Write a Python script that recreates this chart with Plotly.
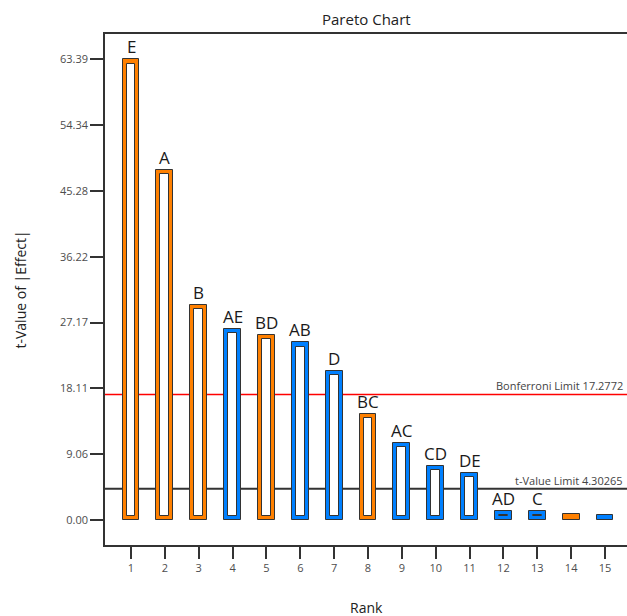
import plotly.graph_objects as go

# Pareto chart of standardized effects
ranks = list(range(1, 16))
terms = ["E", "A", "B", "AE", "BD", "AB", "D", "BC", "AC", "CD", "DE", "AD", "C", "", ""]
t_values = [63.39, 48.16, 29.58, 26.28, 25.45, 24.45, 20.54, 14.63, 10.64, 7.47, 6.51, 1.28, 1.24, 0.78, 0.62]
signs = ["+", "+", "+", "-", "+", "-", "-", "+", "-", "-", "-", "-", "-", "+", "-"]

y_tick_vals = [0.00, 9.06, 18.11, 27.17, 36.22, 45.28, 54.34, 63.39]
y_tick_text = ["0.00", "9.06", "18.11", "27.17", "36.22", "45.28", "54.34", "63.39"]

bonferroni_limit = 17.2772
t_value_limit = 4.30265

ORANGE = "#FF8000"
BLUE = "#0080FF"
EDGE = "#333333"
FONT = "Open Sans"

colors = [ORANGE if s == "+" else BLUE for s in signs]

# hollow look: a white core inset inside each coloured bar
pad = 0.6
inner_base = [pad if v > 2 * pad else None for v in t_values]
inner_h = [v - 2 * pad if v > 2 * pad else None for v in t_values]

fig = go.Figure()
fig.add_trace(go.Bar(
    x=ranks, y=t_values, width=0.5,
    marker=dict(color=colors, line=dict(color=EDGE, width=1)),
    hoverinfo="skip", showlegend=False,
))
fig.add_trace(go.Bar(
    x=ranks, y=inner_h, base=inner_base, width=0.265,
    marker=dict(color="white", line=dict(color=EDGE, width=1)),
    hoverinfo="skip", showlegend=False,
))

# significance limits
for val, col, w, label in [
    (bonferroni_limit, "#FF0000", 1.5, f"Bonferroni Limit {bonferroni_limit}"),
    (t_value_limit, "#333333", 2, f"t-Value Limit {t_value_limit}"),
]:
    fig.add_shape(type="line", xref="paper", x0=0, x1=1, yref="y", y0=val, y1=val,
                  line=dict(color=col, width=w), layer="below")
    fig.add_annotation(xref="paper", x=0.997, yref="y", y=val, text=label,
                       showarrow=False, xanchor="right", yanchor="bottom", yshift=-1,
                       font=dict(family=FONT, size=11, color="#444444"))

# term labels above the bars
for r, v, t in zip(ranks, t_values, terms):
    if t:
        fig.add_annotation(x=r, y=v, text=t, showarrow=False, yanchor="bottom",
                           yshift=-1, font=dict(family=FONT, size=17, color="#1a1a1a"))

# titles
fig.add_annotation(xref="paper", yref="paper", x=0.5, y=1, yshift=15, text="Pareto Chart",
                   showarrow=False, yanchor="middle",
                   font=dict(family=FONT, size=15, color="#222222"))
fig.add_annotation(xref="paper", yref="paper", x=0.5, y=0, yshift=-62, text="Rank",
                   showarrow=False, yanchor="middle",
                   font=dict(family=FONT, size=14, color="#222222"))
fig.add_annotation(xref="paper", yref="paper", x=0, xshift=-85, y=0.5, text="t-Value of |Effect|",
                   showarrow=False, textangle=-90, xanchor="center",
                   font=dict(family=FONT, size=14, color="#222222"))

fig.update_layout(
    width=627, height=616,
    margin=dict(l=105, r=0, t=34, b=71),
    paper_bgcolor="white", plot_bgcolor="white",
    barmode="overlay", bargap=0,
    showlegend=False,
    font=dict(family=FONT),
)
fig.update_xaxes(
    range=[0.232, 15.65], tickvals=ranks, ticktext=[str(r) for r in ranks],
    ticks="outside", ticklen=12, tickwidth=1.5, tickcolor="#333333",
    showline=True, linecolor="#333333", linewidth=1.5, mirror=True,
    showgrid=False, zeroline=False,
    tickfont=dict(family=FONT, size=11, color="#4d4d4d"),
)
fig.update_yaxes(
    range=[-3.44, 66.87], tickvals=y_tick_vals, ticktext=y_tick_text,
    ticks="outside", ticklen=13, tickwidth=1.5, tickcolor="#333333",
    showline=True, linecolor="#333333", linewidth=1.5,
    showgrid=False, zeroline=False,
    tickfont=dict(family=FONT, size=11, color="#4d4d4d"),
)

fig.write_html("out.html")
